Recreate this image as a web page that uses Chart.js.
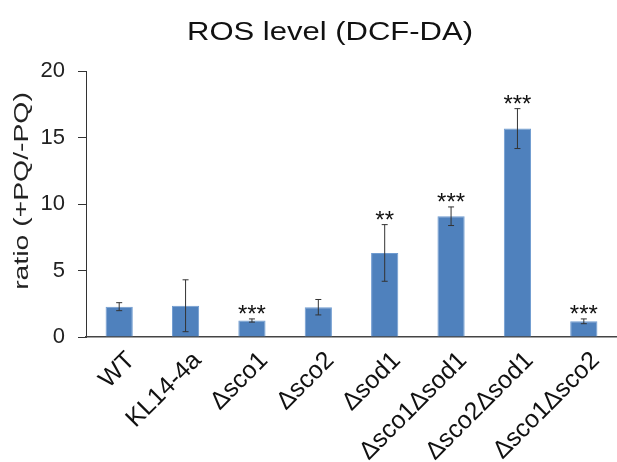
<!DOCTYPE html>
<html>
<head>
<meta charset="utf-8">
<script src="https://cdn.jsdelivr.net/npm/chart.js@4"></script>
<style>
  html, body { margin: 0; padding: 0; background: #fff; }
  #wrap { width: 617px; height: 462px; }
</style>
</head>
<body>
<div id="wrap"><canvas id="rosChart"></canvas></div>
<script>
const categories = ['WT', 'KL14-4a', 'Δsco1', 'Δsco2', 'Δsod1', 'Δsco1Δsod1', 'Δsco2Δsod1', 'Δsco1Δsco2'];
const ratios = [2.28, 2.35, 1.24, 2.24, 6.32, 9.08, 15.67, 1.18];
const errors = [0.30, 1.95, 0.12, 0.58, 2.13, 0.70, 1.50, 0.18];
const stars = ['', '', '***', '', '**', '***', '***', '***'];
const yTicks = [0, 5, 10, 15, 20];

const ctx = document.getElementById('rosChart').getContext('2d');
const FONT = 'Liberation Sans, Arial, sans-serif';

// stretched text helper (the original figure is a bit wider than tall)
function stretchedText(c, text, x, y, size, sx, rot) {
    c.save();
    c.translate(x, y);
    if (rot) c.rotate(rot);
    c.scale(sx, 1);
    c.font = size + 'px ' + FONT;
    c.textAlign = 'center';
    c.textBaseline = 'middle';
    c.fillText(text, 0, 0);
    c.restore();
}

// error bars, significance stars, titles
const extras = {
    id: 'extras',
    afterDatasetsDraw(chart) {
        const c = chart.ctx;
        const y = chart.scales.y;
        const bars = chart.getDatasetMeta(0).data;
        c.save();
        c.strokeStyle = '#333';
        c.lineWidth = 1;
        bars.forEach((bar, i) => {
            const top = y.getPixelForValue(ratios[i] + errors[i]);
            const bot = y.getPixelForValue(ratios[i] - errors[i]);
            c.beginPath();
            c.moveTo(bar.x, top); c.lineTo(bar.x, bot);
            c.moveTo(bar.x - 3, top); c.lineTo(bar.x + 3, top);
            c.moveTo(bar.x - 3, bot); c.lineTo(bar.x + 3, bot);
            c.stroke();
            if (stars[i]) {
                c.fillStyle = '#111';
                c.font = '24px ' + FONT;
                c.textAlign = 'center';
                c.textBaseline = 'alphabetic';
                c.fillText(stars[i], bar.x, top + 3);
            }
        });
        c.fillStyle = '#111';
        stretchedText(c, 'ROS level (DCF-DA)', 330, 33, 25, 1.24, 0);
        c.fillStyle = '#222';
        stretchedText(c, 'ratio (+PQ/-PQ)', 22, 191, 21, 1.35, -Math.PI / 2);
        c.restore();
    }
};

new Chart(ctx, {
    type: 'bar',
    data: {
        labels: categories,
        datasets: [{
            data: ratios,
            backgroundColor: '#4f81bd',
            borderColor: '#6f9bd0',
            borderWidth: 1,
            barPercentage: 0.41,
            categoryPercentage: 1
        }]
    },
    options: {
        responsive: true,
        maintainAspectRatio: false,
        animation: false,
        layout: { padding: { top: 71, right: 0, left: 40, bottom: 0 } },
        plugins: { legend: { display: false }, tooltip: { enabled: false } },
        scales: {
            y: {
                min: 0,
                max: 20,
                afterBuildTicks: (axis) => { axis.ticks = yTicks.map(v => ({ value: v })); },
                afterFit: (scale) => { scale.width = 46; },
                grid: { drawOnChartArea: false, drawTicks: true, tickLength: 8, color: '#333' },
                border: { display: true, color: '#333', width: 1 },
                ticks: { color: '#222', padding: 13, font: { family: FONT, size: 22 } }
            },
            x: {
                grid: { display: false },
                border: { display: true, color: '#444', width: 1.5 },
                afterFit: (scale) => {
                    scale.height = 125;
                    scale.paddingLeft = 0;
                    scale.paddingRight = 0;
                },
                ticks: {
                    color: '#111',
                    minRotation: 45,
                    maxRotation: 45,
                    padding: 1,
                    labelOffset: 12,
                    font: { family: FONT, size: 25 }
                }
            }
        }
    },
    plugins: [extras]
});
</script>
</body>
</html>
